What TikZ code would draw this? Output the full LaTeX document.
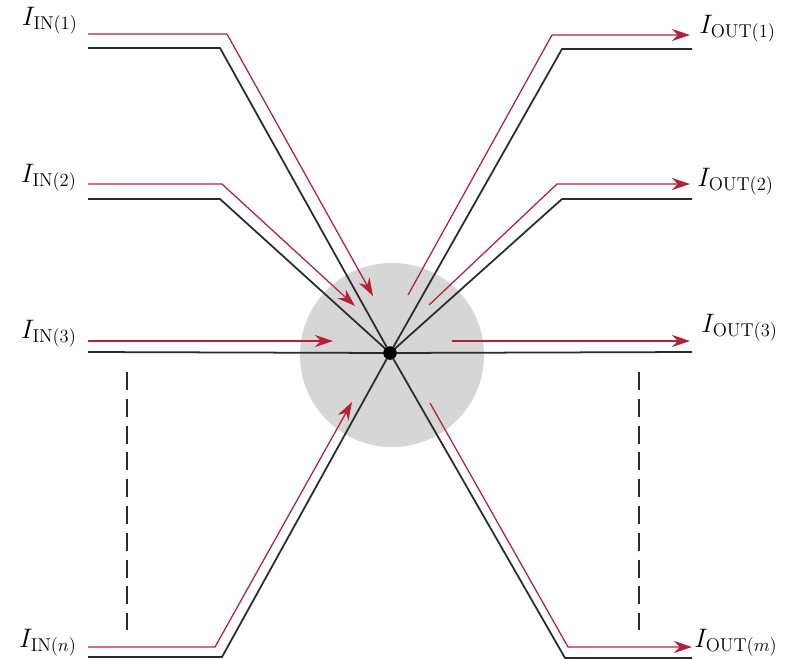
\documentclass[tikz,border=0pt]{standalone}
\usetikzlibrary{arrows.meta, positioning}
\definecolor{wireBlack}{HTML}{2B2B2B}
\definecolor{flowRed}{HTML}{B3203C}
\definecolor{zoneGray}{HTML}{D6D6D6}

\begin{document}
\begin{tikzpicture}[
    x=0.025cm, y=-0.025cm,
    wire/.style={draw=wireBlack, line width=1.25pt},
    flow/.style={draw=flowRed, line width=0.9pt, -{Stealth[length=4.5mm, width=3mm]}},
    curlabel/.style={font=\LARGE, scale=1.1, inner sep=0pt},
    zone/.style={circle, fill=zoneGray, minimum size=4.6cm, inner sep=0pt},
    junction/.style={circle, fill=black, minimum size=0.33cm, inner sep=0pt},
    ellipsis/.style={draw=wireBlack, line width=1.5pt, dash pattern=on 0.45cm off 0.22cm}
]
    \useasboundingbox (0,0) rectangle (789,659);

    % node region and junction
    \node[zone] (zone) at (392,355) {};
    \node[junction] (J) at (390,353) {};

    % labels
    \node[curlabel, anchor=base east] (in1) at (78,25)  {$I_{\mathrm{IN}(1)}$};
    \node[curlabel, anchor=base east] (in2) at (77,182) {$I_{\mathrm{IN}(2)}$};
    \node[curlabel, anchor=base east] (in3) at (77,338) {$I_{\mathrm{IN}(3)}$};
    \node[curlabel, anchor=base east] (inn) at (77,647) {$I_{\mathrm{IN}(n)}$};
    \node[curlabel, anchor=base west] (out1) at (699,33)  {$I_{\mathrm{OUT}(1)}$};
    \node[curlabel, anchor=base west] (out2) at (697,186) {$I_{\mathrm{OUT}(2)}$};
    \node[curlabel, anchor=base west] (out3) at (701,332) {$I_{\mathrm{OUT}(3)}$};
    \node[curlabel, anchor=base west] (outm) at (694,647) {$I_{\mathrm{OUT}(m)}$};

    % corner points of the wires
    \coordinate (bi1s) at (88,48);  \coordinate (bi1c) at (220,48);
    \coordinate (bi2s) at (88,199); \coordinate (bi2c) at (220,199);
    \coordinate (bi3s) at (88,352);
    \coordinate (bins) at (88,657); \coordinate (binc) at (222,657);
    \coordinate (bo1c) at (562,49);  \coordinate (bo1e) at (692,49);
    \coordinate (bo2c) at (562,199); \coordinate (bo2e) at (692,199);
    \coordinate (bo3e) at (692,352);
    \coordinate (bomc) at (565,658); \coordinate (bome) at (692,658);

    % corner points of the currents
    \coordinate (ri1s) at (88,34);  \coordinate (ri1c) at (227,34);  \coordinate (ri1t) at (373,296);
    \coordinate (ri2s) at (88,184); \coordinate (ri2c) at (222,184); \coordinate (ri2t) at (355,306);
    \coordinate (ri3s) at (88,341); \coordinate (ri3t) at (333,341);
    \coordinate (rins) at (88,647); \coordinate (rinc) at (215,647); \coordinate (rint) at (352,402);
    \coordinate (ro1s) at (408,295); \coordinate (ro1c) at (552,35);  \coordinate (ro1t) at (690,35);
    \coordinate (ro2s) at (429,305); \coordinate (ro2c) at (557,184); \coordinate (ro2t) at (690,184);
    \coordinate (ro3s) at (452,341); \coordinate (ro3t) at (690,341);
    \coordinate (roms) at (430,403); \coordinate (romc) at (568,647); \coordinate (romt) at (692,647);

    % wires
    \draw[wire] (bi1s) -- (bi1c) -- (J.center);
    \draw[wire] (bi2s) -- (bi2c) -- (J.center);
    \draw[wire] (bi3s) -- (J.center) -- (bo3e);
    \draw[wire] (bins) -- (binc) -- (J.center);
    \draw[wire] (J.center) -- (bo1c) -- (bo1e);
    \draw[wire] (J.center) -- (bo2c) -- (bo2e);
    \draw[wire] (J.center) -- (bomc) -- (bome);

    % currents
    \draw[flow] (ri1s) -- (ri1c) -- (ri1t);
    \draw[flow] (ri2s) -- (ri2c) -- (ri2t);
    \draw[flow] (ri3s) -- (ri3t);
    \draw[flow] (rins) -- (rinc) -- (rint);
    \draw[flow] (ro1s) -- (ro1c) -- (ro1t);
    \draw[flow] (ro2s) -- (ro2c) -- (ro2t);
    \draw[flow] (ro3s) -- (ro3t);
    \draw[flow] (roms) -- (romc) -- (romt);

    % dot on top
    \node[junction] at (J) {};

    % more branches
    \coordinate (dl1) at (127,372); \coordinate (dl2) at (127,630);
    \coordinate (dr1) at (639,372); \coordinate (dr2) at (639,630);
    \draw[ellipsis] (dl1) -- (dl2);
    \draw[ellipsis] (dr1) -- (dr2);
\end{tikzpicture}
\end{document}
